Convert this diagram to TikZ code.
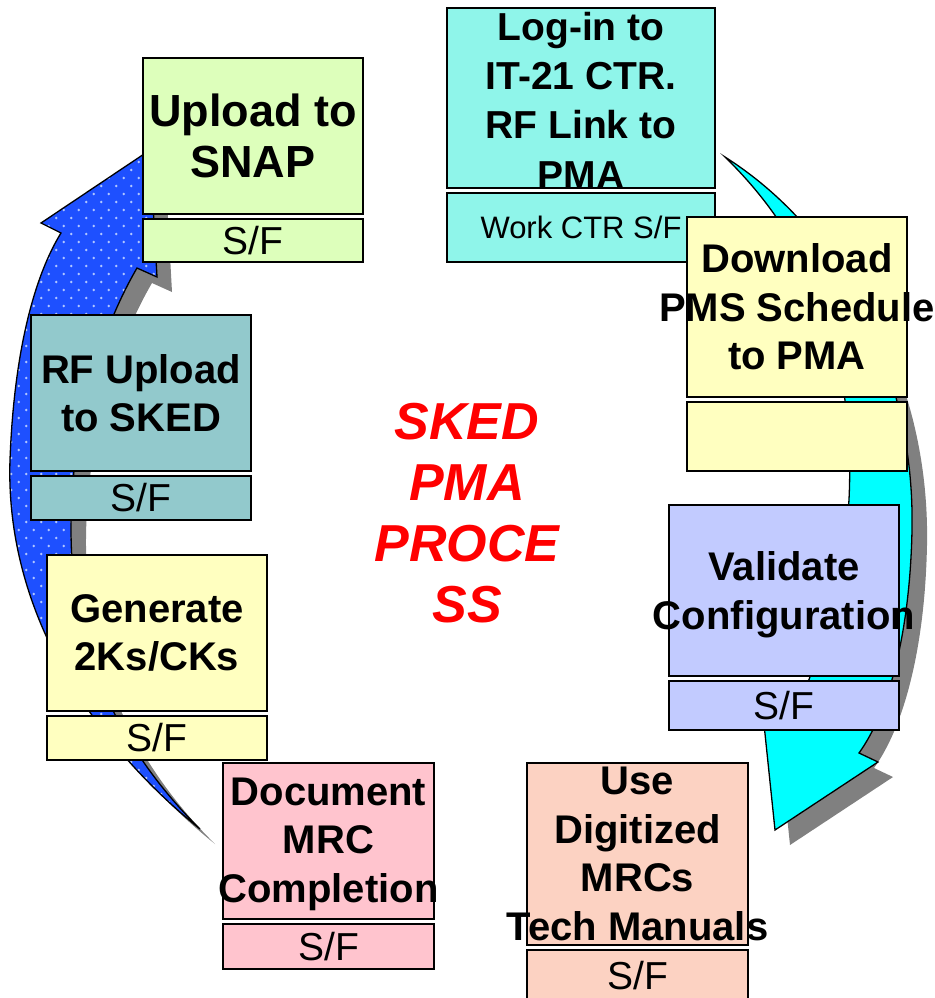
\documentclass[tikz,border=0pt]{standalone}
\usepackage{fontspec}
\setmainfont{Liberation Sans}
\usetikzlibrary{positioning,patterns}

\definecolor{snapgreen}{HTML}{DDFFBB}
\definecolor{logcyan}{HTML}{8FF5EA}
\definecolor{schedyellow}{HTML}{FFFFC0}
\definecolor{validblue}{HTML}{C2CBFF}
\definecolor{mrcpeach}{HTML}{FCD2C2}
\definecolor{docpink}{HTML}{FFC4CE}
\definecolor{skedteal}{HTML}{92C9CC}
\definecolor{sweepblue}{HTML}{1E50FF}
\definecolor{sweepcyan}{HTML}{00FFFF}
\definecolor{dotblue}{HTML}{B0C6FF}
\definecolor{shadegrey}{HTML}{808080}

\pgfdeclarepatternformonly{sparsedots}{\pgfqpoint{-1pt}{-1pt}}{\pgfqpoint{16pt}{17pt}}{\pgfqpoint{15pt}{16pt}}{%
  \pgfpathcircle{\pgfqpoint{3.75pt}{4pt}}{1.3pt}%
  \pgfpathcircle{\pgfqpoint{11.25pt}{12pt}}{1.3pt}%
  \pgfusepath{fill}}

% the two curved arrows, in pixel coordinates
\newcommand{\bluesweep}[1]{(200,829) .. controls (90,740) and (5,610) .. (10,460)
  .. controls (14,350) and (35,275) .. (61,233) #1 -- (150,150) -- (157,277) -- (137,268)
  .. controls (95,340) and (65,450) .. (72,560)
  .. controls (80,680) and (140,770) .. (200,829) -- cycle}
\newcommand{\cyansweep}{(725,157) .. controls (840,230) and (915,370) .. (912,530)
  .. controls (910,630) and (890,710) .. (859,753)
  -- (878,762) -- (775,830) -- (762,705) -- (805,690)
  .. controls (840,600) and (855,520) .. (848,430)
  .. controls (840,320) and (800,230) .. (725,157) -- cycle}

\begin{document}
\begin{tikzpicture}[x=1pt,y=-1pt,
    card/.style={draw=black, line width=1.7pt, inner sep=0pt, minimum width=220pt},
    sfcard/.style={card, font=\fontsize{39}{45}\selectfont},
    caption/.style={align=center, inner sep=0pt, font=\fontsize{40}{48.5}\selectfont\bfseries},
    sweep/.style={draw=black, line width=1.3pt, line join=miter}]
  \useasboundingbox (0,0) rectangle (934,998);

  % shadows
  \fill[shadegrey, shift={(15,15)}] \bluesweep{};
  \fill[shadegrey, shift={(15,15)}] \cyansweep;

  % arrows
  \draw[sweep, preaction={fill=sweepblue}, pattern=sparsedots, pattern color=dotblue] \bluesweep{-- (41,223)};
  \draw[sweep, fill=sweepcyan] \cyansweep;

  % boxes
  \node[card, fill=snapgreen, minimum height=156pt] (snap) at (253,136) {};
  \node[sfcard, fill=snapgreen, minimum height=43pt, below=3pt of snap] (snapsf) {S/F};

  \node[card, fill=logcyan, minimum width=268pt, minimum height=180pt] (login) at (581,98) {};
  \node[sfcard, fill=logcyan, minimum width=268pt, minimum height=69pt, below=3pt of login,
        font=\fontsize{31}{36}\selectfont] (loginsf) {Work CTR S/F};

  \node[card, fill=schedyellow, minimum height=180pt] (sched) at (797,307) {};
  \node[sfcard, fill=schedyellow, minimum height=69pt, below=3pt of sched] (schedsf) {};

  \node[card, fill=validblue, minimum width=230pt, minimum height=171pt] (valid) at (784,590.5) {};
  \node[sfcard, fill=validblue, minimum width=230pt, minimum height=49pt, below=3pt of valid] (validsf) {S/F};

  \node[card, fill=mrcpeach, minimum width=221pt, minimum height=182pt] (mrc) at (637.5,854) {};
  \node[sfcard, fill=mrcpeach, minimum width=221pt, minimum height=51pt, below=3pt of mrc] (mrcsf) {S/F};

  \node[card, fill=docpink, minimum width=211pt, minimum height=156pt] (doc) at (328.5,841) {};
  \node[sfcard, fill=docpink, minimum width=211pt, minimum height=45pt, below=3pt of doc] (docsf) {S/F};

  \node[card, fill=schedyellow, minimum height=156pt] (gen) at (157,633) {};
  \node[sfcard, fill=schedyellow, minimum height=44pt, below=3pt of gen] (gensf) {S/F};

  \node[card, fill=skedteal, minimum height=156pt] (sked) at (141,393) {};
  \node[sfcard, fill=skedteal, minimum height=44pt, below=3pt of sked] (skedsf) {S/F};

  % box texts
  \node[caption, font=\fontsize{45}{51}\selectfont\bfseries] (snaptxt) at (snap) {Upload to\\SNAP};
  \node[caption, font=\fontsize{39}{49.3}\selectfont\bfseries, yshift=-2pt] (logintxt) at (login) {Log-in to\\IT-21 CTR.\\RF Link to\\PMA};
  \node[caption] (schedtxt) at (sched) {Download\\PMS Schedule\\to PMA};
  \node[caption, yshift=-4pt] (validtxt) at (valid) {Validate\\Configuration};
  \node[caption] (mrctxt) at (mrc) {Use\\Digitized\\MRCs\\Tech Manuals};
  \node[caption, yshift=-3pt] (doctxt) at (doc) {Document\\MRC\\Completion};
  \node[caption] (gentxt) at (gen) {Generate\\2Ks/CKs};
  \node[caption] (skedtxt) at (sked) {RF Upload\\to SKED};

  % centre title
  \node[align=center, inner sep=0pt, text=red, font=\fontsize{52}{61}\selectfont\bfseries\itshape]
    (title) at (467,513) {SKED\\PMA\\PROCE\\SS};
\end{tikzpicture}
\end{document}
